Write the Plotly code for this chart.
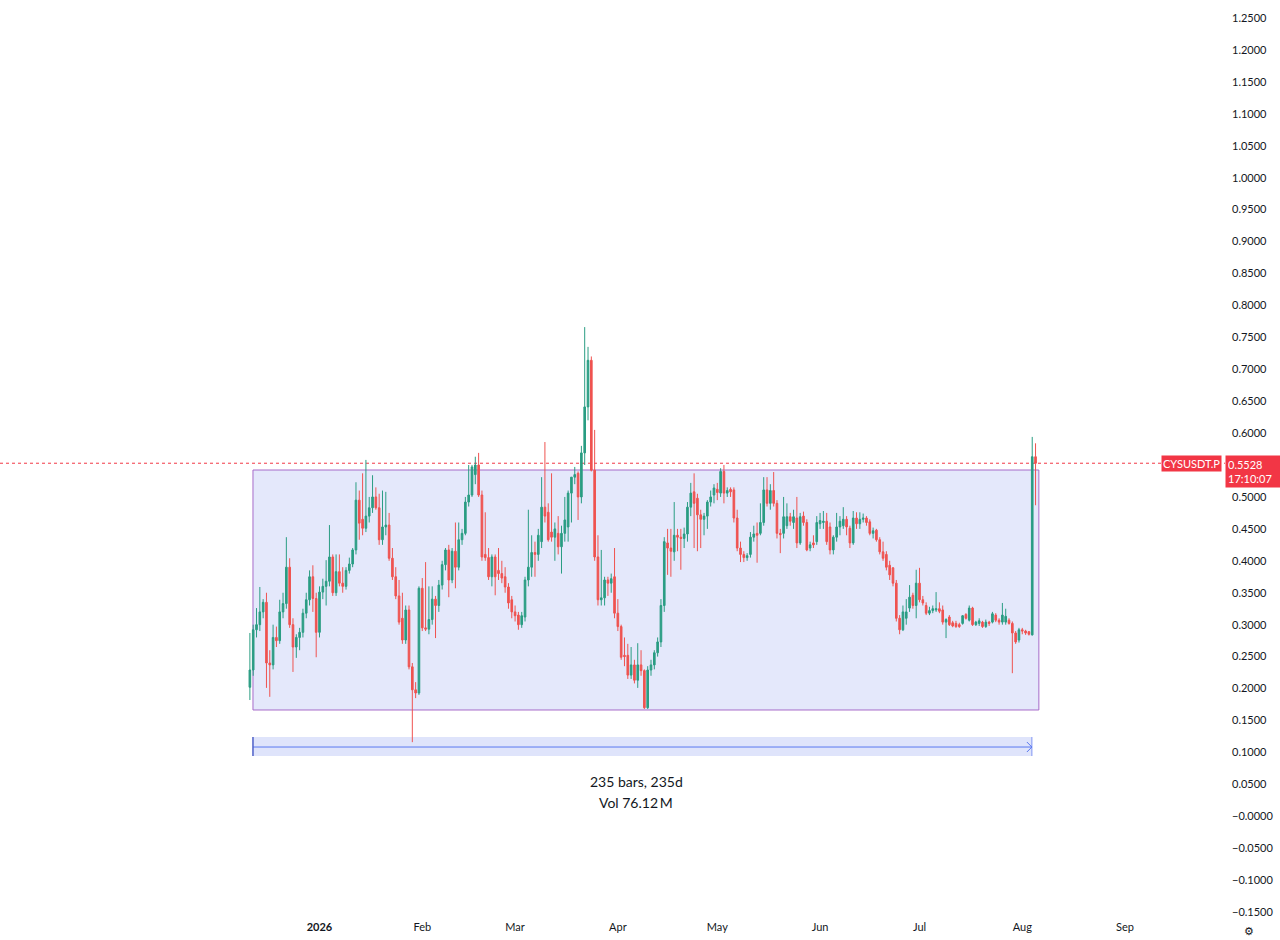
import pandas as pd
import plotly.graph_objects as go

# ---------------- data (daily candles, CYSUSDT.P) ----------------
start_date = "2025-12-11"

opens = [
    .202, .229, .292, .30, .32, .335, .24, .237, .28, .275,
    .32, .333, .39, .30, .265, .28, .288, .318, .339, .375,
    .341, .288, .351, .36, .368, .406, .35, .383, .365, .36,
    .385, .395, .417, .495, .465, .451, .47, .483, .50, .483,
    .433, .453, .456, .404, .375, .345, .31, .276, .323, .234,
    .198, .193, .357, .295, .293, .308, .34, .33, .362, .394,
    .417, .37, .415, .39, .433, .443, .492, .503, .535, .55,
    .503, .41, .405, .375, .406, .385, .38, .375, .359, .339,
    .32, .315, .30, .312, .37, .39, .413, .41, .43, .484,
    .476, .445, .437, .443, .422, .443, .453, .506, .531, .537,
    .50, .569, .641, .714, .542, .406, .339, .342, .37, .365,
    .375, .318, .297, .252, .252, .221, .237, .213, .237, .228,
    .17, .229, .237, .256, .273, .33, .428, .42, .414, .44,
    .437, .435, .442, .484, .508, .498, .472, .465, .47, .492,
    .503, .512, .506, .54, .506, .512, .511, .467, .42, .41,
    .405, .41, .437, .443, .443, .46, .511, .49, .51, .49,
    .443, .443, .455, .469, .46, .467, .428, .47, .46, .42,
    .428, .43, .458, .46, .462, .453, .417, .437, .453, .455,
    .465, .451, .428, .467, .458, .465, .467, .461, .443, .448,
    .433, .414, .41, .393, .389, .365, .31, .292, .31, .326,
    .346, .33, .365, .339, .33, .318, .322, .323, .325, .323,
    .304, .312, .303, .302, .30, .302, .316, .307, .326, .30,
    .302, .304, .297, .304, .304, .315, .307, .304, .304, .307,
    .302, .287, .276, .292, .29, .289, .284, .563,
]
highs = [
    .287, .30, .326, .359, .34, .35, .26, .30, .297, .339,
    .35, .437, .404, .31, .285, .295, .325, .35, .385, .393,
    .35, .36, .372, .401, .456, .41, .41, .41, .39, .39,
    .405, .42, .523, .51, .537, .558, .50, .534, .515, .505,
    .51, .508, .475, .42, .39, .37, .35, .33, .33, .24,
    .21, .36, .373, .398, .36, .36, .345, .37, .40, .42,
    .425, .42, .46, .46, .45, .50, .55, .55, .563, .569,
    .51, .476, .42, .41, .41, .42, .40, .39, .365, .345,
    .33, .32, .32, .375, .48, .44, .43, .45, .531, .586,
    .49, .537, .46, .47, .455, .50, .51, .53, .547, .54,
    .58, .766, .735, .72, .605, .44, .417, .375, .375, .38,
    .42, .34, .30, .28, .27, .265, .245, .271, .26, .23,
    .235, .245, .26, .28, .34, .437, .45, .45, .492, .45,
    .45, .452, .492, .522, .537, .505, .48, .475, .495, .51,
    .52, .522, .545, .55, .515, .515, .515, .48, .43, .415,
    .412, .445, .455, .46, .49, .531, .531, .52, .539, .495,
    .45, .50, .49, .475, .48, .50, .475, .477, .465, .43,
    .44, .47, .475, .478, .475, .46, .44, .475, .47, .484,
    .47, .455, .478, .476, .476, .474, .47, .465, .452, .45,
    .437, .43, .415, .40, .39, .37, .315, .33, .34, .362,
    .35, .386, .389, .345, .335, .328, .33, .351, .335, .33,
    .31, .315, .306, .306, .303, .315, .318, .33, .328, .306,
    .31, .306, .308, .306, .32, .318, .31, .334, .325, .31,
    .305, .29, .295, .295, .292, .29, .594, .584,
]
lows = [
    .182, .22, .28, .29, .31, .201, .187, .23, .265, .27,
    .31, .325, .295, .226, .248, .26, .28, .31, .33, .32,
    .249, .28, .34, .33, .36, .345, .345, .36, .35, .355,
    .38, .39, .41, .433, .44, .445, .46, .475, .48, .425,
    .425, .44, .40, .37, .34, .30, .27, .27, .23, .116,
    .185, .19, .29, .29, .285, .30, .279, .32, .355, .385,
    .343, .365, .357, .385, .425, .44, .485, .50, .52, .50,
    .40, .40, .37, .36, .346, .37, .365, .35, .325, .31,
    .305, .292, .295, .305, .36, .375, .375, .40, .42, .46,
    .43, .43, .40, .41, .38, .43, .43, .46, .52, .464,
    .49, .55, .62, .54, .40, .33, .33, .33, .345, .35,
    .31, .29, .245, .235, .215, .215, .208, .201, .22, .168,
    .168, .22, .23, .25, .265, .32, .378, .375, .40, .415,
    .386, .42, .43, .47, .42, .415, .42, .44, .45, .485,
    .49, .495, .50, .49, .50, .50, .46, .415, .398, .398,
    .40, .405, .43, .397, .44, .455, .485, .48, .485, .435,
    .412, .435, .45, .455, .45, .42, .425, .455, .415, .415,
    .42, .425, .45, .45, .425, .41, .41, .43, .44, .45,
    .44, .42, .425, .45, .45, .46, .455, .44, .435, .43,
    .41, .40, .385, .37, .36, .305, .285, .29, .30, .32,
    .325, .31, .335, .33, .315, .315, .318, .32, .318, .30,
    .279, .298, .296, .295, .295, .30, .308, .305, .298, .298,
    .298, .295, .295, .298, .302, .304, .30, .30, .30, .30,
    .224, .27, .272, .285, .284, .283, .283, .487,
]
closes = [
    .229, .292, .30, .32, .335, .24, .237, .28, .275, .32,
    .333, .39, .30, .265, .28, .288, .318, .339, .375, .341,
    .288, .351, .36, .368, .406, .35, .383, .365, .36, .385,
    .395, .417, .495, .459, .451, .47, .483, .50, .483, .433,
    .453, .456, .404, .375, .345, .304, .276, .323, .234, .198,
    .193, .357, .295, .293, .308, .34, .33, .362, .394, .417,
    .37, .415, .39, .433, .443, .492, .503, .547, .55, .503,
    .406, .405, .375, .406, .375, .38, .373, .359, .334, .32,
    .314, .30, .314, .37, .39, .413, .41, .44, .484, .47,
    .433, .437, .45, .422, .443, .464, .506, .531, .535, .50,
    .569, .641, .714, .542, .406, .339, .342, .37, .365, .372,
    .318, .297, .249, .25, .221, .237, .213, .237, .228, .17,
    .229, .237, .256, .273, .33, .43, .42, .415, .44, .437,
    .435, .442, .484, .506, .49, .472, .465, .47, .492, .50,
    .514, .507, .54, .506, .51, .508, .467, .42, .41, .405,
    .408, .437, .442, .44, .46, .511, .49, .51, .49, .443,
    .441, .469, .469, .462, .469, .428, .469, .46, .417, .425,
    .425, .46, .463, .462, .43, .417, .437, .453, .462, .465,
    .453, .428, .467, .458, .465, .467, .46, .443, .447, .433,
    .414, .404, .39, .378, .365, .31, .292, .32, .32, .343,
    .33, .365, .339, .334, .318, .322, .325, .325, .321, .304,
    .308, .30, .298, .297, .297, .314, .31, .326, .30, .304,
    .306, .297, .304, .302, .317, .307, .304, .315, .313, .302,
    .287, .273, .292, .29, .287, .285, .563, .5528,
]

symbol = "CYSUSDT.P"
countdown = "17:10:07"
measure_lines = ["235 bars, 235d", "Vol 76.12\u2009M"]

# price-scale labels (0.5500 is hidden behind the last-price label in the reference)
y_tick_vals = [1.25, 1.20, 1.15, 1.10, 1.05, 1.00, 0.95, 0.90, 0.85, 0.80,
               0.75, 0.70, 0.65, 0.60, 0.50, 0.45, 0.40, 0.35, 0.30,
               0.25, 0.20, 0.15, 0.10, 0.05, 0.0, -0.05, -0.10, -0.15]
y_tick_text = ["1.2500", "1.2000", "1.1500", "1.1000", "1.0500", "1.0000",
               "0.9500", "0.9000", "0.8500", "0.8000", "0.7500", "0.7000",
               "0.6500", "0.6000", "0.5000", "0.4500", "0.4000",
               "0.3500", "0.3000", "0.2500", "0.2000", "0.1500", "0.1000",
               "0.0500", "\u22120.0000", "\u22120.0500", "\u22120.1000",
               "\u22120.1500"]
x_tick_vals = ["2026-01-01", "2026-02-01", "2026-03-01", "2026-04-01",
               "2026-05-01", "2026-06-01", "2026-07-01", "2026-08-01",
               "2026-09-01"]
x_tick_text = ["<b>2026</b>", "Feb", "Mar", "Apr", "May", "Jun", "Jul",
               "Aug", "Sep"]

# drawing tools (range box & date-range measurement)
box_top, box_bottom = 0.5422, 0.1664
box_start_days, box_end_days = 0.93, 238.0
meas_top, meas_bottom, meas_mid = 0.1241, 0.0943, 0.1084
meas_start_days, meas_end_days = 0.93, 235.9

# ---------------- styling ----------------
GREEN = "#2a9d83"
RED = "#ef5350"
TEXT = "#131722"
FONT = "Lato, 'Noto Sans', sans-serif"

dates = pd.date_range(start_date, periods=len(closes), freq="D")
t0 = pd.Timestamp(start_date)

PLOT_W = 1225
PX_PER_DAY = 3.315
JAN1_PX = 319.5
jan1 = pd.Timestamp("2026-01-01")
x_lo = jan1 - pd.Timedelta(days=JAN1_PX / PX_PER_DAY)
x_hi = jan1 + pd.Timedelta(days=(PLOT_W - JAN1_PX) / PX_PER_DAY)

fig = go.Figure()

fig.add_trace(go.Candlestick(
    x=dates, open=opens, high=highs, low=lows, close=closes,
    increasing=dict(line=dict(color=GREEN, width=1), fillcolor=GREEN),
    decreasing=dict(line=dict(color=RED, width=1), fillcolor=RED),
    whiskerwidth=0, hoverinfo="skip", showlegend=False,
))

last_close = closes[-1]
shapes = []
# range rectangle
shapes.append(dict(
    type="rect", xref="x", yref="y", layer="below",
    x0=t0 + pd.Timedelta(days=box_start_days), x1=t0 + pd.Timedelta(days=box_end_days),
    y0=box_bottom, y1=box_top,
    fillcolor="#e4e8fb", line=dict(color="#a66bc9", width=1),
))
# measurement band
ms = t0 + pd.Timedelta(days=meas_start_days)
me = t0 + pd.Timedelta(days=meas_end_days)
shapes.append(dict(
    type="rect", xref="x", yref="y", layer="below",
    x0=ms, x1=me, y0=meas_bottom, y1=meas_top,
    fillcolor="#dfe4fb", line=dict(width=0),
))
shapes.append(dict(type="line", xref="x", yref="y", x0=ms, x1=me,
                   y0=meas_mid, y1=meas_mid, line=dict(color="#5a78f0", width=1)))
shapes.append(dict(type="line", xref="x", yref="y", x0=ms, x1=ms,
                   y0=meas_bottom, y1=meas_top, line=dict(color="#4e5fc8", width=1.5)))
shapes.append(dict(type="line", xref="x", yref="y", x0=me, x1=me,
                   y0=meas_bottom, y1=meas_top, line=dict(color="#8095f3", width=1)))
# arrow head (pixel sized, anchored at end of measurement)
for dy in (5, -5):
    shapes.append(dict(type="line", xref="x", yref="y", xsizemode="pixel", ysizemode="pixel",
                       xanchor=me, yanchor=meas_mid, x0=-5, x1=0, y0=dy, y1=0,
                       line=dict(color="#5a78f0", width=1)))
# last price dotted line
shapes.append(dict(type="line", xref="paper", yref="y", x0=0, x1=1,
                   y0=last_close, y1=last_close, layer="below",
                   line=dict(color="#f23645", width=1, dash="dot")))

annotations = [
    dict(xref="paper", yref="y", x=636 / PLOT_W, y=0.0552, text=measure_lines[0],
         showarrow=False, font=dict(size=14, color=TEXT, family=FONT)),
    dict(xref="paper", yref="y", x=636 / PLOT_W, y=0.0223, text=measure_lines[1],
         showarrow=False, font=dict(size=14, color=TEXT, family=FONT)),
    dict(xref="paper", yref="y", x=1222 / PLOT_W, y=last_close, xanchor="right",
         yanchor="middle", text=symbol, showarrow=False, bgcolor="#f23645",
         borderpad=1, font=dict(size=11, color="white", family=FONT)),
    dict(xref="paper", yref="y", x=1.0, y=last_close + 8 / 638.6, xanchor="left",
         yanchor="top", text=f"{last_close:.4f}<br>{countdown}", showarrow=False,
         bgcolor="#f23645", borderpad=2, width=51, align="left",
         font=dict(size=11, color="white", family=FONT)),
    dict(xref="paper", yref="paper", x=1256 / PLOT_W, y=-15 / 915, text="\u2699",
         yanchor="middle", showarrow=False, font=dict(size=11, color=TEXT)),
]

fig.update_layout(
    width=1280, height=940,
    margin=dict(l=0, r=55, t=0, b=25),
    paper_bgcolor="white", plot_bgcolor="white",
    showlegend=False, hovermode=False,
    font=dict(family=FONT, size=11, color=TEXT),
    shapes=shapes, annotations=annotations,
    xaxis=dict(
        type="date", range=[x_lo, x_hi], rangeslider=dict(visible=False),
        showgrid=False, zeroline=False, showline=False, ticks="",
        tickmode="array", tickvals=x_tick_vals, ticktext=x_tick_text,
        tickfont=dict(size=11, color=TEXT, family=FONT), ticklabelstandoff=4,
    ),
    yaxis=dict(
        side="right", range=[1.25 - 915 / 638.6 + 18 / 638.6, 1.25 + 18 / 638.6],
        showgrid=False, zeroline=False, showline=False, ticks="",
        tickmode="array", tickvals=y_tick_vals, ticktext=y_tick_text,
        tickfont=dict(size=11, color=TEXT, family=FONT), ticklabelstandoff=6,
    ),
)

fig.write_html("out.html", config={"displayModeBar": False},
               post_script="document.body.style.margin='0';")
